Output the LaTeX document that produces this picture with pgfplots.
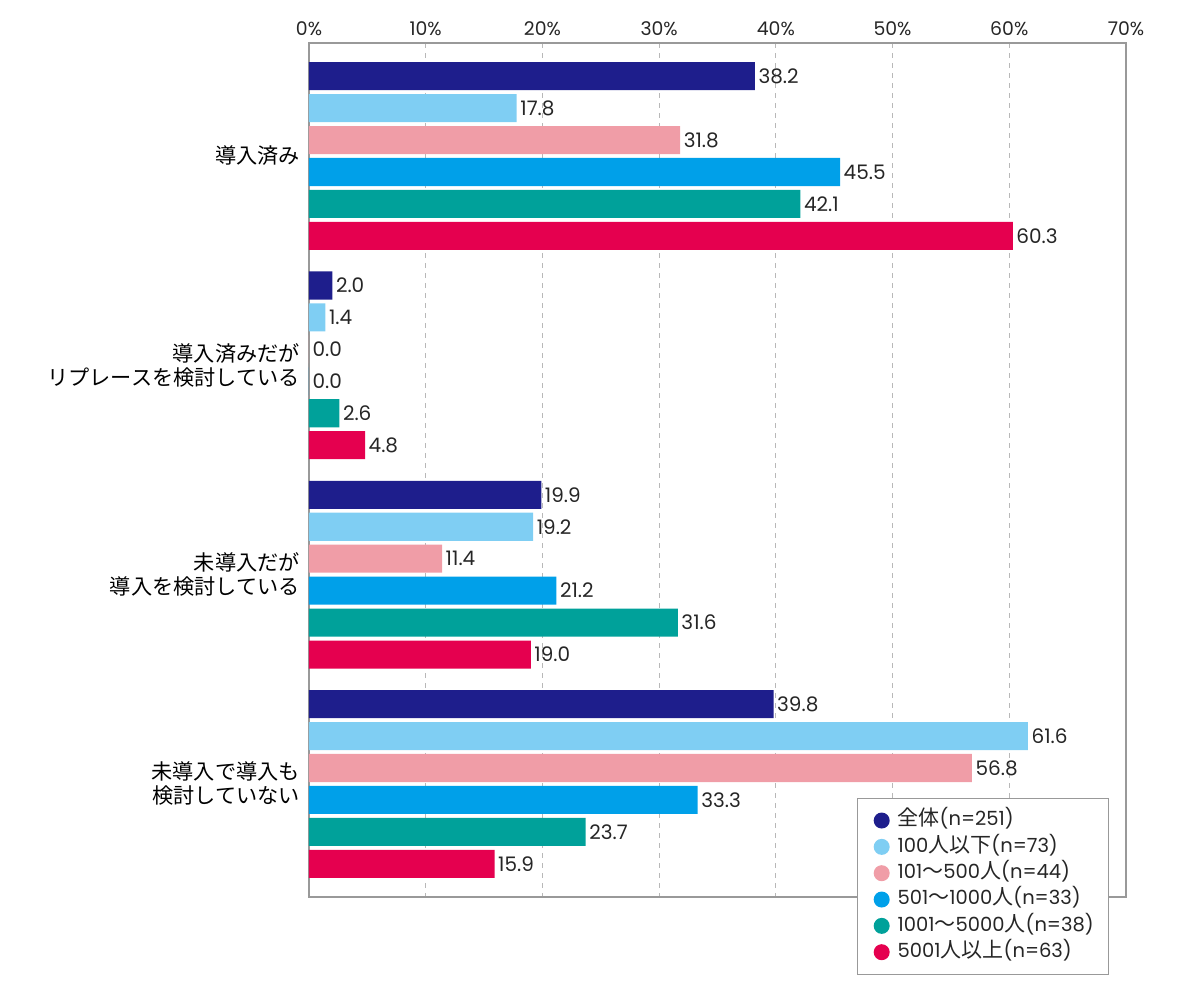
\documentclass[border=0pt]{standalone}
\usepackage{fontspec}
\setmainfont{Poppins}
\newfontfamily\jp{Noto Sans CJK JP}
\usepackage{pgfplots}
\pgfplotsset{compat=1.18}
\definecolor{c1}{HTML}{1E1E8C}
\definecolor{c2}{HTML}{7FCEF3}
\definecolor{c3}{HTML}{F09DA7}
\definecolor{c4}{HTML}{00A0E9}
\definecolor{c5}{HTML}{00A19A}
\definecolor{c6}{HTML}{E5004F}
\definecolor{frame}{HTML}{999999}
\newcommand{\J}[1]{{\jp\fontsize{12.6}{14.4}\selectfont #1}}
\begin{document}
\begin{tikzpicture}
\useasboundingbox (-185.4pt,-61.8pt) rectangle (534.6pt,538.2pt);
\begin{axis}[
  at={(0,0)}, anchor=south west,
  scale only axis, width=490.2pt, height=512.4pt,
  xmin=0, xmax=70, ymin=0.46, ymax=4.54, y dir=reverse,
  xtick={0,10,...,70}, xticklabel pos=upper,
  xticklabel={\pgfmathprintnumber{\tick}\%},
  /pgf/number format/assume math mode=true,
  ytick={1,2,3,4},
  yticklabels={導入済み,{導入済みだが\\リプレースを検討している},{未導入だが\\導入を検討している},{未導入で導入も\\検討していない}},
  yticklabel style={align=right, font=\jp\fontsize{12.7}{14.4}\selectfont, xshift=-2pt},
  xticklabel style={font=\fontsize{11.3}{13}\selectfont, text=black!85, yshift=1pt},
  major tick length=0pt,
  xmajorgrids, major grid style={dashed, frame!70, line width=0.5pt},
  axis line style={frame, line width=0.8pt},
  xbar, bar width=0.134,
  nodes near coords={\pgfmathprintnumber[fixed,zerofill,precision=1]{\pgfplotspointmeta}},
  nodes near coords style={font=\fontsize{12}{14}\selectfont, text=black!85, inner sep=2pt},
  every axis plot/.append style={draw=none},
  legend image code/.code={\path (-10.4pt,0pt); \fill[#1] (0pt,0pt) circle (4.8pt);},
  legend cell align=left,
  legend style={at={(0.671,0.116)}, anchor=north west, draw=frame, line width=0.6pt,
    font=\fontsize{11.7}{13}\selectfont, text=black!85, row sep=0.3pt, inner xsep=4pt, inner ysep=5.5pt,
    nodes={inner xsep=4.8pt, inner ysep=2pt, text height=9pt, text depth=2.5pt}},
]
\addplot[fill=c1, bar shift=-0.3815] coordinates {(38.2,1) (2.0,2) (19.9,3) (39.8,4)};
\addplot[fill=c2, bar shift=-0.2289] coordinates {(17.8,1) (1.4,2) (19.2,3) (61.6,4)};
\addplot[fill=c3, bar shift=-0.0763] coordinates {(31.8,1) (0.0,2) (11.4,3) (56.8,4)};
\addplot[fill=c4, bar shift=0.0763] coordinates {(45.5,1) (0.0,2) (21.2,3) (33.3,4)};
\addplot[fill=c5, bar shift=0.2289] coordinates {(42.1,1) (2.6,2) (31.6,3) (23.7,4)};
\addplot[fill=c6, bar shift=0.3815] coordinates {(60.3,1) (4.8,2) (19.0,3) (15.9,4)};
\legend{\J{全体}(n=251),100\J{人以下}(n=73),101\J{～}500\J{人}(n=44),501\J{～}1000\J{人}(n=33),1001\J{～}5000\J{人}(n=38),5001\J{人以上}(n=63)}
\end{axis}
\end{tikzpicture}
\end{document}
